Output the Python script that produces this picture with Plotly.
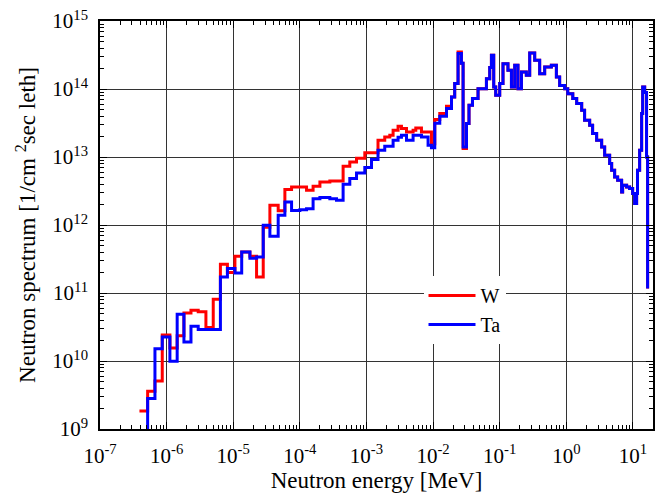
import plotly.graph_objects as go

# Bin left edges (MeV); last value is the final right edge
energy = [3.91e-7, 5.19e-7, 6.68e-7, 8.60e-7, 1.12e-6, 1.44e-6, 1.82e-6, 2.32e-6, 2.98e-6, 3.89e-6,
          5.01e-6, 6.42e-6, 8.18e-6, 1.06e-5, 1.34e-5, 1.78e-5, 2.24e-5, 2.82e-5, 3.55e-5, 4.73e-5,
          5.96e-5, 7.51e-5, 1.00e-4, 1.26e-4, 1.58e-4, 2.00e-4, 2.82e-4, 3.55e-4, 4.46e-4, 5.62e-4,
          7.09e-4, 9.44e-4, 1.19e-3, 1.49e-3, 1.88e-3, 2.24e-3, 2.51e-3, 2.98e-3, 3.35e-3, 3.99e-3,
          5.01e-3, 5.50e-3, 6.69e-3, 8.41e-3, 9.45e-3, 1.06e-2, 1.26e-2, 1.59e-2, 1.89e-2, 2.11e-2,
          2.37e-2, 2.66e-2, 2.82e-2, 3.17e-2, 3.46e-2, 3.90e-2, 4.73e-2, 6.32e-2, 7.08e-2, 7.51e-2,
          8.13e-2, 8.71e-2, 0.100, 0.112, 0.133, 0.150, 0.168, 0.188, 0.212, 0.251,
          0.282, 0.335, 0.398, 0.473, 0.596, 0.709, 0.794, 0.944, 1.05, 1.25,
          1.43, 1.70, 1.88, 2.24, 2.48, 2.85, 3.39, 3.76, 4.47, 4.79,
          5.31, 5.89, 6.76, 7.00, 8.04, 8.91, 9.89, 10.6, 11.35, 11.7,
          12.6, 13.5, 14.0, 15.0, 16.0, 16.6]

flux_W = [1.84e9, 3.58e9, 5.08e9, 2.41e10, 1.55e10, 2.36e10, 5.08e10, 5.57e10, 5.32e10, 3.10e10,
          8.07e10, 2.64e11, 2.01e11, 3.47e11, 4.01e11, 3.47e11, 1.72e11, 9.25e11, 1.95e12, 1.62e12,
          3.32e12, 3.62e12, 3.62e12, 3.24e12, 3.71e12, 4.29e12, 4.44e12, 4.44e12, 7.30e12, 8.44e12,
          9.57e12, 1.15e13, 1.15e13, 1.76e13, 1.97e13, 2.08e13, 2.47e13, 2.83e13, 2.62e13, 2.33e13,
          2.47e13, 2.67e13, 2.33e13, 2.33e13, 1.57e13, 3.55e13, 4.35e13, 5.57e13, 7.62e13, 1.20e14,
          3.50e14, 2.39e14, 1.33e13, 3.10e13, 5.75e13, 7.22e13, 1.01e14, 1.42e14, 2.07e14, 3.13e14,
          1.07e14, 8.08e13, 1.20e14, 2.36e14, 1.88e14, 1.07e14, 2.23e14, 1.01e14, 1.78e14, 1.59e14,
          3.38e14, 2.64e14, 1.68e14, 2.11e14, 2.23e14, 1.50e14, 1.13e14, 1.01e14, 8.55e13, 7.22e13,
          6.10e13, 4.86e13, 3.47e13, 2.92e13, 2.21e13, 1.76e13, 1.40e13, 1.06e13, 8.00e12, 6.37e12,
          5.08e12, 4.54e12, 3.05e12, 3.84e12, 3.62e12, 3.43e12, 2.90e12, 2.07e12, 2.90e12, 6.37e12,
          1.26e13, 4.35e13, 1.07e14, 8.90e13, 1.00e13, 1.16e11]

flux_Ta = [5.0e8, 2.80e9, 1.52e10, 2.25e10, 9.91e9, 4.86e10, 1.90e10, 3.24e10, 2.90e10, 2.90e10,
           2.90e10, 1.72e11, 2.29e11, 1.97e11, 4.01e11, 3.24e11, 3.38e11, 9.91e11, 6.82e11, 1.39e12,
           2.18e12, 1.64e12, 1.68e12, 1.74e12, 2.44e12, 2.53e12, 2.44e12, 2.31e12, 3.97e12, 4.81e12,
           5.82e12, 6.98e12, 9.16e12, 1.26e13, 1.44e13, 1.44e13, 1.76e13, 1.95e13, 2.08e13, 1.76e13,
           2.08e13, 2.08e13, 1.97e13, 1.49e13, 1.37e13, 3.13e13, 3.97e13, 5.15e13, 7.62e13, 1.20e14,
           3.32e14, 2.39e14, 1.40e13, 3.10e13, 5.75e13, 7.22e13, 1.01e14, 1.42e14, 2.07e14, 3.13e14,
           1.07e14, 8.08e13, 1.20e14, 2.36e14, 1.88e14, 1.07e14, 2.23e14, 1.01e14, 1.78e14, 1.59e14,
           3.38e14, 2.64e14, 1.68e14, 2.11e14, 2.23e14, 1.50e14, 1.13e14, 1.01e14, 8.55e13, 7.22e13,
           6.10e13, 4.86e13, 3.47e13, 2.92e13, 2.21e13, 1.76e13, 1.40e13, 1.06e13, 8.00e12, 6.37e12,
           5.08e12, 4.54e12, 3.05e12, 3.84e12, 3.62e12, 3.43e12, 2.90e12, 2.07e12, 2.90e12, 6.37e12,
           1.26e13, 4.35e13, 1.07e14, 8.90e13, 1.00e13, 1.16e11]

x_tickvals = [1e-7, 1e-6, 1e-5, 1e-4, 1e-3, 1e-2, 1e-1, 1e0, 1e1]
x_ticktext = ["10<sup>-7</sup>", "10<sup>-6</sup>", "10<sup>-5</sup>", "10<sup>-4</sup>",
              "10<sup>-3</sup>", "10<sup>-2</sup>", "10<sup>-1</sup>", "10<sup>0</sup>", "10<sup>1</sup>"]
y_tickvals = [1e9, 1e10, 1e11, 1e12, 1e13, 1e14, 1e15]
y_ticktext = ["10<sup>9</sup>", "10<sup>10</sup>", "10<sup>11</sup>", "10<sup>12</sup>",
              "10<sup>13</sup>", "10<sup>14</sup>", "10<sup>15</sup>"]

FONT = "Liberation Serif, Times New Roman, serif"

x_minor = [m * 10.0 ** e for e in range(-7, 2) for m in range(2, 10) if m * 10.0 ** e <= 20]
y_minor = [m * 10.0 ** e for e in range(9, 15) for m in range(2, 10)]

fig = go.Figure()
fig.add_trace(go.Scatter(x=energy, y=flux_W, mode="lines", name="W",
                         line=dict(color="#ff0000", width=3, shape="hv")))
fig.add_trace(go.Scatter(x=energy, y=flux_Ta, mode="lines", name="Ta",
                         line=dict(color="#0000ff", width=3, shape="hv")))

axis_common = dict(
    type="log", showline=True, linecolor="black", linewidth=1.5, mirror="allticks",
    ticks="inside", ticklen=7, tickwidth=1.2, tickcolor="black",
    showgrid=True, gridcolor="#333333", gridwidth=1, zeroline=False, automargin=False,
    tickfont=dict(family=FONT, size=21, color="black"),
)

fig.update_layout(
    width=672, height=494,
    margin=dict(l=100, r=19, t=21, b=65),
    paper_bgcolor="white", plot_bgcolor="white",
    font=dict(family=FONT, color="black"),
    xaxis=dict(axis_common, range=[-7, 1.30103], tickmode="array",
               tickvals=x_tickvals, ticktext=x_ticktext, ticklabelstandoff=7,
               minor=dict(tickmode="array", tickvals=x_minor, ticks="inside", ticklen=4,
                          tickcolor="black", showgrid=False),
               title=dict(text="Neutron energy [MeV]", font=dict(family=FONT, size=23), standoff=1)),
    yaxis=dict(axis_common, range=[9, 15], tickmode="array",
               tickvals=y_tickvals, ticktext=y_ticktext, ticklabelstandoff=6,
               minor=dict(tickmode="array", tickvals=y_minor, ticks="inside", ticklen=4,
                          tickcolor="black", showgrid=False),
               title=dict(text="Neutron spectrum [1/cm <sup>2</sup>sec leth]",
                          font=dict(family=FONT, size=23), standoff=10)),
    legend=dict(x=0.585, y=0.375, xanchor="left", yanchor="top",
                bgcolor="white", borderwidth=0, itemwidth=47,
                font=dict(family=FONT, size=20, color="black"),
                tracegroupgap=0),
    showlegend=True,
)

fig.write_html("out.html")
